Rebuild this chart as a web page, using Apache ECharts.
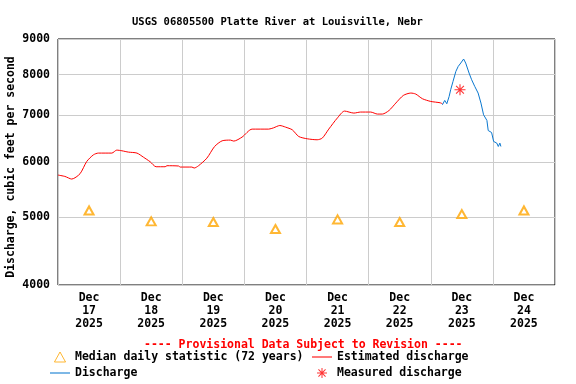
<!DOCTYPE html>
<html>
<head>
<meta charset="utf-8">
<script src="https://cdn.jsdelivr.net/npm/echarts@6/dist/echarts.min.js"></script>
<style>html,body{margin:0;padding:0;background:#fff}#c{width:576px;height:384px}</style>
</head>
<body>
<div id="c"></div>
<script>
// hours since Dec 17 2025 00:00
const dayLabels = ['Dec\n17\n2025','Dec\n18\n2025','Dec\n19\n2025','Dec\n20\n2025','Dec\n21\n2025','Dec\n22\n2025','Dec\n23\n2025','Dec\n24\n2025'];
const labelHours = [12,36,60,84,108,132,156,180];
const yTicks = [4000,5000,6000,7000,8000,9000];

const estHours = [0,2.7,5.3,8.5,11.1,13.7,15.6,20.8,22.7,24.7,27.2,30.5,33.0,35.6,37.9,41.4,42.1,46.6,47.2,51.7,52.6,54.3,57.5,60.5,63.4,66.6,67.9,71.1,75.0,81.4,83.3,85.7,87.9,90.5,93.0,96.3,100.1,102.1,104.6,107.9,110.7,114.3,116.9,120.8,123.4,125.3,127.9,130.5,133.4,136.3,138.2,140.8,144.0,147.6,148.5];
const estValues = [5747,5721,5672,5772,6010,6144,6179,6179,6240,6226,6199,6179,6096,6005,5907,5907,5927,5921,5901,5901,5882,5927,6076,6315,6434,6449,6428,6513,6687,6687,6716,6767,6731,6672,6526,6477,6456,6492,6687,6935,7097,7050,7074,7074,7027,7027,7111,7286,7472,7531,7506,7391,7326,7294,7270];

const qHours = [148.5,149.4,150.2,151.1,151.7,152.6,153.7,154.6,155.6,156.7,157.5,158.8,159.8,161.0,162.3,163.4,164.4,165.7,166.2,167.5,168.3,169.5,170.1,170.7,171.1];
const qValues = [7246,7350,7270,7447,7614,7825,8088,8222,8314,8425,8314,8045,7869,7697,7531,7286,7011,6881,6656,6613,6420,6386,6315,6386,6315];

const medianHours = [12,36,60,84,108,132,156,180];
const medianValues = [5114,4933,4923,4811,4965,4923,5054,5114];

const measuredHours = [155.3];
const measuredValues = [7614];

const zip = (a,b) => a.map((v,i)=>[v,b[i]]);
const F = "'DejaVu Sans Mono', monospace";
const asterisk = 'path://M-5,-0.5H5V0.5H-5Z M-0.5,-5H0.5V5H-0.5Z M-3.9,-3.2L-3.2,-3.9L3.9,3.2L3.2,3.9Z M-3.9,3.2L3.2,-3.9L3.9,-3.2L-3.2,3.9Z';
const lineIcon = 'path://M0,0H19V1H0Z';
const triIcon = 'path://M5,0L10,9H0Z';
const legendText = {fontFamily:F, fontWeight:'bold', fontSize:11.5, color:'#000', lineHeight:12};

const chart = echarts.init(document.getElementById('c'), null, {renderer:'canvas'});
chart.setOption({
  animation:false,
  backgroundColor:'#fff',
  title:[
    {text:'USGS 06805500 Platte River at Louisville, Nebr', left:127, top:12,
     textStyle:{fontFamily:F, fontWeight:'bold', fontSize:10.5, color:'#000'}},
    {text:'---- Provisional Data Subject to Revision ----', left:139, top:334,
     textStyle:{fontFamily:F, fontWeight:'bold', fontSize:11.5, color:'#ff0000'}}
  ],
  grid:{left:58, right:21, top:39, bottom:99, containLabel:false, outerBoundsMode:'none',
    show:true, borderColor:'#000', borderWidth:1, backgroundColor:'transparent'},
  xAxis:{type:'value', min:0, max:192, interval:24,
    axisLine:{show:false}, axisTick:{show:false},
    splitLine:{show:true, lineStyle:{color:'#cccccc', width:1}},
    axisLabel:{customValues:labelHours, margin:7, lineHeight:13,
      fontFamily:F, fontWeight:'bold', fontSize:11.5, color:'#000',
      formatter:(v)=>dayLabels[labelHours.indexOf(v)]}},
  yAxis:{type:'log', logBase:10, min:4000, max:9000,
    name:'Discharge, cubic feet per second', nameLocation:'middle', nameGap:41, nameMoveOverlap:false,
    nameTextStyle:{fontFamily:F, fontWeight:'bold', fontSize:11.5, color:'#000', padding:[0,10,0,0]},
    axisLine:{show:false},
    axisTick:{show:false, customValues:yTicks},
    splitLine:{show:true, lineStyle:{color:'#cccccc', width:1}},
    axisLabel:{customValues:yTicks, margin:8, fontFamily:F, fontWeight:'bold', fontSize:11.5, color:'#000',
      formatter:(v)=>String(Math.round(v))}},
  legend:[
    {left:50, top:351, orient:'vertical', itemWidth:20, itemHeight:10, itemGap:4, padding:0,
     textStyle:legendText,
     data:[
       {name:'Median daily statistic (72 years)', icon:triIcon,
        itemStyle:{color:'#fff', borderColor:'#ffa500', borderWidth:1}},
       {name:'Discharge', icon:lineIcon}
     ]},
    {left:312, top:351, orient:'vertical', itemWidth:20, itemHeight:10, itemGap:4, padding:0,
     textStyle:legendText,
     data:[
       {name:'Estimated discharge', icon:lineIcon},
       {name:'Measured discharge', icon:asterisk}
     ]}
  ],
  series:[
    {name:'Estimated discharge', type:'line', data:zip(estHours, estValues), symbol:'none', smooth:0.25,
     lineStyle:{color:'#ff0000', width:1}, itemStyle:{color:'#ff0000'}},
    {name:'Discharge', type:'line', data:zip(qHours, qValues), symbol:'none',
     lineStyle:{color:'#0a78d0', width:1}, itemStyle:{color:'#0a78d0'}},
    {name:'Median daily statistic (72 years)', type:'scatter', data:zip(medianHours, medianValues),
     symbol:'emptyTriangle', symbolSize:[9,8], itemStyle:{color:'#ffa500', borderWidth:1}},
    {name:'Measured discharge', type:'scatter', data:zip(measuredHours, measuredValues),
     symbol:asterisk, symbolSize:11, itemStyle:{color:'#ff0000'}}
  ]
});
</script>
</body>
</html>
